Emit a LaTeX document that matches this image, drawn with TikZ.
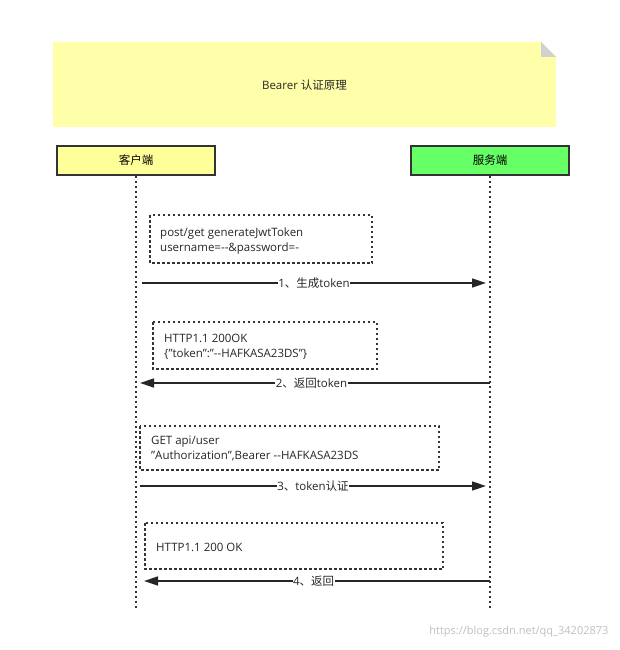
\documentclass[tikz,border=0pt]{standalone}
\usepackage{fontspec}
\setmainfont{Open Sans}
\newfontfamily\cjk{Noto Sans CJK SC}
\usetikzlibrary{arrows.meta}
\begin{document}
\begin{tikzpicture}[x=1pt,y=-1pt,font=\fontsize{11.5}{14.5}\selectfont,
  actor/.style={draw=black!80,line width=1.8pt,minimum width=158pt,minimum height=29pt,inner sep=0pt},
  note/.style={draw=black!80,line width=1.5pt,dash pattern=on 2.5pt off 2.5pt,rectangle,inner sep=0pt},
  txt/.style={anchor=west,align=left,inner sep=0pt,text=black!85},
  life/.style={draw=black!80,line width=1.5pt,dash pattern=on 2.5pt off 2.5pt},
  msg/.style={draw=black!85,line width=1.6pt,-{Triangle[length=14pt,width=9pt]}},
  lbl/.style={fill=white,inner sep=0.5pt,text=black!85}]
\useasboundingbox (0,0) rectangle (619,650);
% title note
\fill[fill={rgb,255:red,255;green,255;blue,170}] (53,42) -- (541,42) -- (556,57) -- (556,127) -- (53,127) -- cycle;
\fill[black!18] (541,42) -- (556,57) -- (541,57) -- cycle;
\node[text=black!85] (title) at (304.5,85) {Bearer {\cjk 认证原理}};
% actors
\node[actor,fill={rgb,255:red,255;green,255;blue,153}] (c) at (136,160.5) {\cjk 客户端};
\node[actor,fill={rgb,255:red,102;green,255;blue,102}] (s) at (490,160.5) {\cjk 服务端};
\coordinate (ce) at (136,610);
\coordinate (se) at (490,610);
\draw[life] (c.south) -- (ce);
\draw[life] (s.south) -- (se);
% notes
\draw[note] (150,215) rectangle (372,263);
\node[txt] (n1) at (160,241) {post/get generateJwtToken\\username=-{}-\&password=-};
\draw[note] (153,322) rectangle (377,369);
\node[txt] (n2) at (164,346.5) {HTTP1.1 200OK\\\{"token":"-{}-HAFKASA23DS"\}};
\draw[note] (140,426) rectangle (439,470);
\node[txt] (n3) at (151,448.5) {GET api/user\\"Authorization",Bearer -{}-HAFKASA23DS};
\draw[note] (145,523) rectangle (443,569);
\node[txt] (n4) at (156,547) {HTTP1.1 200 OK};
% messages
\coordinate (a1s) at (142,283); \coordinate (a1e) at (486,283);
\draw[msg] (a1s) -- node[lbl] {1{\cjk 、生成}token} (a1e);
\coordinate (a2s) at (490,383); \coordinate (a2e) at (140,383);
\draw[msg] (a2s) -- node[lbl,pos=0.51] {2{\cjk 、返回}token} (a2e);
\coordinate (a3s) at (140,486); \coordinate (a3e) at (486,486);
\draw[msg] (a3s) -- node[lbl] {3{\cjk 、}token{\cjk 认证}} (a3e);
\coordinate (a4s) at (490,581); \coordinate (a4e) at (144,581);
\draw[msg] (a4s) -- node[lbl,pos=0.51] {4{\cjk 、返回}} (a4e);
\node[text=black!25,anchor=east,font=\fontsize{11}{13}\selectfont] (wm) at (612,632) {https://blog.csdn.net/qq\_34202873};
\end{tikzpicture}
\end{document}
